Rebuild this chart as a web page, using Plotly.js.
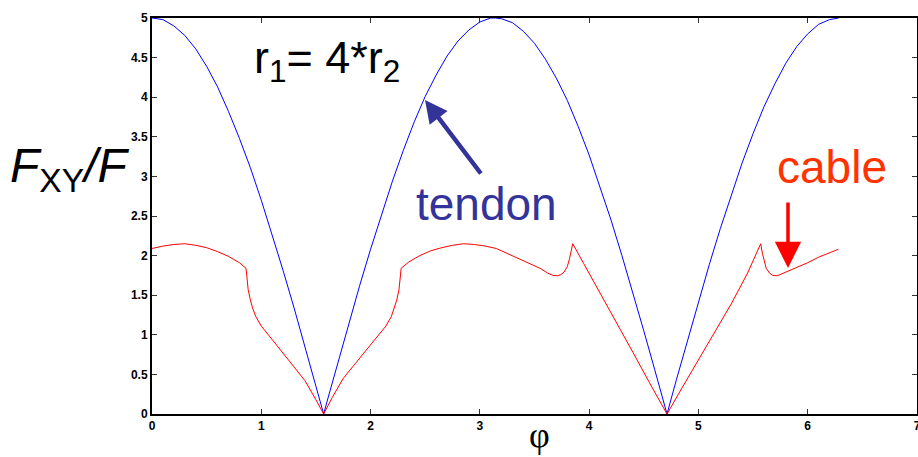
<!DOCTYPE html>
<html>
<head>
<meta charset="utf-8">
<script src="https://cdn.plot.ly/plotly-3.0.1.min.js"></script>
<style>
  html, body { margin: 0; padding: 0; background: #fff; }
  #plot { width: 918px; height: 457px; }
</style>
</head>
<body>
<div id="plot"></div>
<script>
// Angle samples and force ratio for the tendon (blue curve)
const tendonPhi = [0, 0.1, 0.2, 0.3, 0.4, 0.5, 0.6, 0.7, 0.8, 0.9, 1.0, 1.1, 1.2, 1.3, 1.4, 1.5, 1.5708,
  1.6, 1.7, 1.8, 1.9, 2.0, 2.1, 2.2, 2.3, 2.4, 2.5, 2.6, 2.7, 2.8, 2.9, 3.0, 3.1, 3.1416,
  3.2, 3.3, 3.4, 3.5, 3.6, 3.7, 3.8, 3.9, 4.0, 4.1, 4.2, 4.3, 4.4, 4.5, 4.6, 4.7, 4.7124,
  4.8, 4.9, 5.0, 5.1, 5.2, 5.3, 5.4, 5.5, 5.6, 5.7, 5.8, 5.9, 6.0, 6.1, 6.2, 6.2832];
const tendonRatio = [5.00, 4.98, 4.90, 4.78, 4.61, 4.39, 4.13, 3.82, 3.48, 3.11, 2.70, 2.27, 1.81, 1.34, 0.85, 0.35, 0.00,
  0.15, 0.64, 1.14, 1.62, 2.08, 2.52, 2.94, 3.33, 3.69, 4.01, 4.28, 4.52, 4.71, 4.85, 4.95, 5.00, 5.00,
  4.99, 4.94, 4.83, 4.68, 4.48, 4.24, 3.96, 3.63, 3.27, 2.87, 2.45, 2.00, 1.54, 1.05, 0.56, 0.06, 0.00,
  0.44, 0.93, 1.42, 1.89, 2.34, 2.77, 3.17, 3.54, 3.88, 4.17, 4.43, 4.64, 4.80, 4.92, 4.98, 5.00];

// Angle samples and force ratio for the cable (red curve)
const cablePhi = [0, 0.1, 0.2, 0.3, 0.4, 0.5, 0.6, 0.7, 0.8, 0.86, 0.865, 0.87, 0.88, 0.9, 0.92, 0.95, 1.0, 1.1, 1.2, 1.3, 1.4, 1.5, 1.5708,
  1.65, 1.75, 1.85, 1.95, 2.05, 2.14, 2.19, 2.22, 2.24, 2.26, 2.27, 2.275, 2.28, 2.35, 2.45, 2.55, 2.65, 2.75, 2.85, 2.95, 3.05, 3.15,
  3.25, 3.35, 3.45, 3.55, 3.62, 3.67, 3.71, 3.74, 3.77, 3.8, 3.82, 3.835, 3.85, 3.95, 4.1, 4.25, 4.4, 4.55, 4.7124,
  4.85, 5.0, 5.15, 5.3, 5.45, 5.57, 5.585, 5.6, 5.62, 5.65, 5.68, 5.72, 5.8, 5.9, 6.0, 6.1, 6.2, 6.28];
const cableRatio = [2.09, 2.12, 2.14, 2.15, 2.13, 2.10, 2.05, 1.99, 1.91, 1.84, 1.78, 1.70, 1.57, 1.44, 1.34, 1.23, 1.11, 0.94, 0.77, 0.60, 0.42, 0.18, 0.00,
  0.21, 0.45, 0.62, 0.79, 0.96, 1.11, 1.23, 1.34, 1.44, 1.57, 1.70, 1.78, 1.84, 1.92, 2.00, 2.06, 2.10, 2.13, 2.15, 2.14, 2.12, 2.09,
  2.03, 1.97, 1.90, 1.84, 1.78, 1.75, 1.745, 1.76, 1.79, 1.86, 1.96, 2.05, 2.15, 1.90, 1.53, 1.15, 0.78, 0.40, 0.00,
  0.33, 0.68, 1.04, 1.39, 1.78, 2.15, 2.03, 1.93, 1.84, 1.78, 1.75, 1.745, 1.79, 1.85, 1.91, 1.98, 2.04, 2.08];

const xTicks = [0, 1, 2, 3, 4, 5, 6, 7];
const yTicks = [0, 0.5, 1, 1.5, 2, 2.5, 3, 3.5, 4, 4.5, 5];

const traces = [
  { x: tendonPhi, y: tendonRatio, mode: 'lines', line: { color: '#0000ff', width: 1 }, hoverinfo: 'skip' },
  { x: cablePhi, y: cableRatio, mode: 'lines', line: { color: '#ff0000', width: 1 }, hoverinfo: 'skip' }
];

const tickFont = { family: 'Arial, "Liberation Sans", sans-serif', size: 12, color: '#000', weight: 'bold' };

const axisCommon = {
  showgrid: false, zeroline: false, showline: true, linecolor: '#000', linewidth: 2,
  mirror: 'ticks', ticks: 'inside', ticklen: 5, tickwidth: 1, tickcolor: '#333',
  tickfont: tickFont, fixedrange: true, ticklabeloverflow: 'allow'
};

const layout = {
  width: 918, height: 457,
  margin: { l: 152, r: 1, t: 18, b: 43 },
  paper_bgcolor: '#fff', plot_bgcolor: '#fff',
  showlegend: false,
  xaxis: Object.assign({}, axisCommon, { range: [0, 7], tickvals: xTicks, ticktext: xTicks.map(String) }),
  yaxis: Object.assign({}, axisCommon, { range: [0, 5], tickvals: yTicks, ticktext: yTicks.map(String) }),
  annotations: [
    { xref: 'paper', yref: 'paper', x: -0.027, y: 0.618, xanchor: 'right', yanchor: 'middle', showarrow: false,
      text: '<i>F</i><sub>XY</sub><i>/F</i>', font: { family: 'Arial, "Liberation Sans", sans-serif', size: 48, color: '#000' } },
    { xref: 'paper', yref: 'paper', x: 0.506, y: -0.052, xanchor: 'center', yanchor: 'middle', showarrow: false,
      text: 'φ', font: { family: '"Liberation Serif", "DejaVu Serif", serif', size: 36, color: '#000' } },
    { xref: 'paper', yref: 'paper', x: 0.131, y: 0.892, xanchor: 'left', yanchor: 'middle', showarrow: false,
      text: 'r<sub>1</sub>= 4*r<sub>2</sub>', font: { family: 'Arial, "Liberation Sans", sans-serif', size: 45, color: '#000' } },
    { xref: 'paper', yref: 'paper', x: 0.342, y: 0.53, xanchor: 'left', yanchor: 'middle', showarrow: false,
      text: 'tendon', font: { family: 'Arial, "Liberation Sans", sans-serif', size: 46, color: '#333399' } },
    { xref: 'paper', yref: 'paper', x: 0.814, y: 0.625, xanchor: 'left', yanchor: 'middle', showarrow: false,
      text: 'cable', font: { family: 'Arial, "Liberation Sans", sans-serif', size: 46, color: '#ff3300' } },
    { xref: 'paper', yref: 'paper', x: (425 - 152) / 765, y: (414 - 100) / 396, text: '', showarrow: true,
      ax: 57, ay: 75, arrowhead: 2, arrowsize: 1.0, arrowwidth: 4.5, arrowcolor: '#333399' },
    { xref: 'paper', yref: 'paper', x: (788 - 152) / 765, y: (414 - 268) / 396, text: '', showarrow: true,
      ax: 0, ay: -67, arrowhead: 2, arrowsize: 1.5, arrowwidth: 3.5, arrowcolor: '#ff0000' }
  ]
};

Plotly.newPlot('plot', traces, layout, { staticPlot: true, displayModeBar: false });
</script>
</body>
</html>
